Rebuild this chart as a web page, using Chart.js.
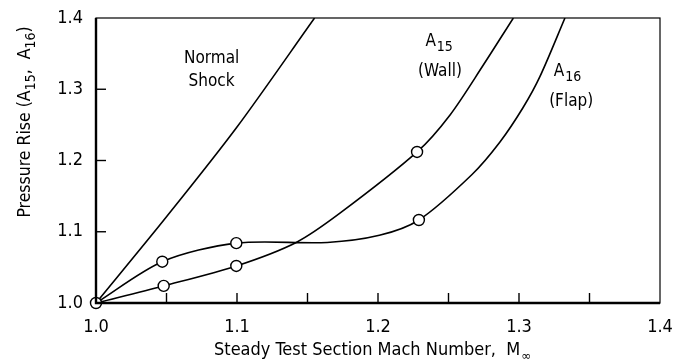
<!DOCTYPE html>
<html>
<head>
<meta charset="utf-8">
<script src="https://cdn.jsdelivr.net/npm/chart.js@4"></script>
<style>
  html, body { margin: 0; padding: 0; background: #fff; }
  #wrap { width: 675px; height: 361px; }
</style>
</head>
<body>
<div id="wrap"><canvas id="pressureChart" width="675" height="361"></canvas></div>
<script>
const FONT = '"Liberation Sans Narrow", "DejaVu Sans Condensed", sans-serif';

// curves
const machNormal = [1.0, 1.05, 1.1, 1.155];
const riseNormal = [1.0, 1.121, 1.247, 1.4];

const machWall = [1.0, 1.048, 1.0995, 1.142, 1.173, 1.2277, 1.2511, 1.2747, 1.296];
const riseWall = [1.0, 1.024, 1.052, 1.085, 1.126, 1.212, 1.264, 1.334, 1.4];

const machFlap = [1.0, 1.047, 1.0995, 1.164, 1.201, 1.229, 1.2665, 1.2865, 1.3028, 1.3149, 1.3326];
const riseFlap = [1.0, 1.058, 1.084, 1.085, 1.095, 1.1165, 1.18, 1.226, 1.274, 1.318, 1.4];

// measured points (circles)
const machPoints = [1.0, 1.048, 1.0995, 1.2277, 1.047, 1.0995, 1.229];
const risePoints = [1.0, 1.024, 1.052, 1.212, 1.058, 1.084, 1.1165];

const xTickLabels = ['1.0', '1.1', '1.2', '1.3', '1.4'];
const yTickLabels = ['1.0', '1.1', '1.2', '1.3', '1.4'];

const toXY = (xs, ys) => xs.map((x, i) => ({ x: x, y: ys[i] }));

function curve(xs, ys) {
    return {
        data: toXY(xs, ys),
        showLine: true,
        borderColor: '#000',
        borderWidth: 1.6,
        pointRadius: 0,
        tension: 0.3,
        fill: false
    };
}

function tickLabel(list, value) {
    const k = Math.round((value - 1.0) * 10);
    if (Math.abs((value - 1.0) * 10 - k) > 1e-6) return '';
    return list[k] || '';
}

// frame, inward ticks, annotations and axis titles
const decor = {
    id: 'decor',
    afterDraw(chart) {
        const ctx = chart.ctx;
        const a = chart.chartArea;
        const xs = chart.scales.x, ys = chart.scales.y;
        ctx.save();
        ctx.strokeStyle = '#000';
        ctx.lineWidth = 1.2;
        ctx.strokeRect(a.left, a.top, a.right - a.left, a.bottom - a.top);
        ctx.lineWidth = 2.4;
        ctx.beginPath();
        ctx.moveTo(a.left, a.top);
        ctx.lineTo(a.left, a.bottom);
        ctx.lineTo(a.right, a.bottom);
        ctx.stroke();

        ctx.lineWidth = 1.4;
        xs.ticks.forEach(t => {
            if (t.value <= 1.0001 || t.value >= 1.3999) return;
            const px = xs.getPixelForValue(t.value);
            ctx.beginPath();
            ctx.moveTo(px, a.bottom);
            ctx.lineTo(px, a.bottom - 10);
            ctx.stroke();
        });
        ys.ticks.forEach(t => {
            if (t.value <= 1.0001 || t.value >= 1.3999) return;
            const py = ys.getPixelForValue(t.value);
            ctx.beginPath();
            ctx.moveTo(a.left, py);
            ctx.lineTo(a.left + 10, py);
            ctx.stroke();
        });

        ctx.fillStyle = '#000';
        ctx.textBaseline = 'alphabetic';
        ctx.textAlign = 'center';
        ctx.font = '17px ' + FONT;
        const P = (x, y) => [xs.getPixelForValue(x), ys.getPixelForValue(y)];

        let p = P(1.082, 1.337);
        ctx.fillText('Normal', p[0], p[1]);
        p = P(1.082, 1.304);
        ctx.fillText('Shock', p[0], p[1]);

        function sub(main, s, x, y) {
            ctx.font = '17px ' + FONT;
            const w1 = ctx.measureText(main).width;
            ctx.font = '14px ' + FONT;
            const w2 = ctx.measureText(s).width;
            const x0 = x - (w1 + w2) / 2;
            ctx.textAlign = 'left';
            ctx.font = '17px ' + FONT;
            ctx.fillText(main, x0, y);
            ctx.font = '14px ' + FONT;
            ctx.fillText(s, x0 + w1 + 1, y + 5);
            ctx.textAlign = 'center';
            ctx.font = '17px ' + FONT;
        }

        p = P(1.243, 1.361);
        sub('A', '15', p[0], p[1]);
        p = P(1.244, 1.318);
        ctx.fillText('(Wall)', p[0], p[1]);

        p = P(1.334, 1.319);
        sub('A', '16', p[0], p[1]);
        p = P(1.337, 1.276);
        ctx.fillText('(Flap)', p[0], p[1]);

        // x title
        ctx.font = '18px ' + FONT;
        const xt = 'Steady Test Section Mach Number,  M';
        const wx = ctx.measureText(xt).width;
        ctx.font = '13px ' + FONT;
        const ws = ctx.measureText('\u221e').width;
        const cx = (a.left + a.right) / 2 - 6;
        ctx.textAlign = 'left';
        ctx.font = '18px ' + FONT;
        ctx.fillText(xt, cx - (wx + ws) / 2, 355);
        ctx.font = '13px ' + FONT;
        ctx.fillText('\u221e', cx - (wx + ws) / 2 + wx + 1, 360);

        // y title
        ctx.translate(30, 122);
        ctx.rotate(-Math.PI / 2);
        const parts = [['Pressure Rise (A', 0, 17.5], ['15', 5, 14], [',  A', 0, 17.5], ['16', 5, 14], [')', 0, 17.5]];
        let total = 0;
        parts.forEach(q => { ctx.font = q[2] + 'px ' + FONT; total += ctx.measureText(q[0]).width; });
        let x = -total / 2;
        parts.forEach(q => {
            ctx.font = q[2] + 'px ' + FONT;
            ctx.fillText(q[0], x, q[1]);
            x += ctx.measureText(q[0]).width;
        });
        ctx.restore();
    }
};

new Chart(document.getElementById('pressureChart'), {
    type: 'scatter',
    data: {
        datasets: [
            {
                data: toXY(machPoints, risePoints),
                showLine: false,
                pointRadius: 5.5,
                pointBorderWidth: 1.4,
                pointBorderColor: '#000',
                pointBackgroundColor: '#fff',
                clip: false
            },
            curve(machNormal, riseNormal),
            curve(machWall, riseWall),
            curve(machFlap, riseFlap)
        ]
    },
    options: {
        responsive: false,
        animation: false,
        events: [],
        layout: { padding: { top: 18, right: 15, left: 0, bottom: 0 } },
        plugins: { legend: { display: false }, tooltip: { enabled: false } },
        scales: {
            x: {
                type: 'linear',
                min: 1.0,
                max: 1.4,
                afterFit: s => {
                    s.height = 58;
                    s.paddingLeft = 0;
                    s.paddingRight = 0;
                },
                afterBuildTicks: s => {
                    s.ticks = [1.0, 1.05, 1.1, 1.15, 1.2, 1.25, 1.3, 1.35, 1.4].map(v => ({ value: v }));
                },
                grid: { display: false, drawTicks: false },
                border: { display: false },
                ticks: {
                    autoSkip: false,
                    maxRotation: 0,
                    padding: 14,
                    color: '#000',
                    font: { family: FONT, size: 18 },
                    callback: v => tickLabel(xTickLabels, v)
                }
            },
            y: {
                type: 'linear',
                min: 1.0,
                max: 1.4,
                afterFit: s => {
                    s.width = 96;
                    s.paddingTop = 0;
                    s.paddingBottom = 0;
                },
                afterBuildTicks: s => {
                    s.ticks = [1.0, 1.1, 1.2, 1.3, 1.4].map(v => ({ value: v }));
                },
                grid: { display: false, drawTicks: false },
                border: { display: false },
                ticks: {
                    padding: 13,
                    color: '#000',
                    font: { family: FONT, size: 18 },
                    callback: v => tickLabel(yTickLabels, v)
                }
            }
        }
    },
    plugins: [decor]
});
</script>
</body>
</html>
